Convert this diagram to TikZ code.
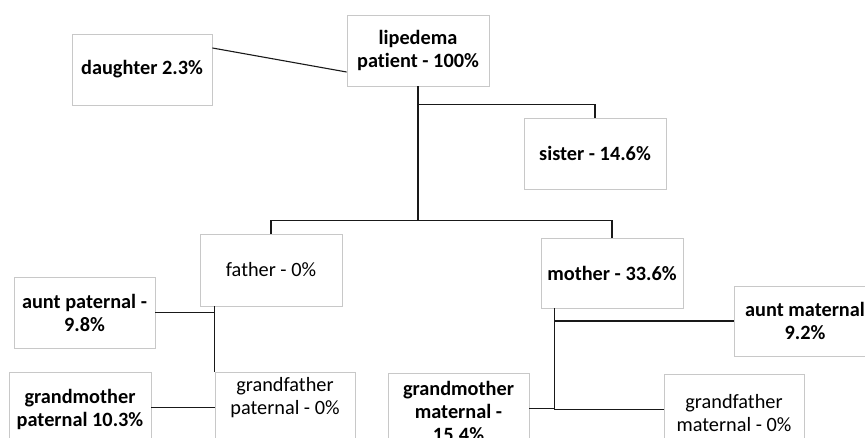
\documentclass[tikz,border=0pt]{standalone}
\usepackage{fontspec}
\setmainfont{Carlito}[Ligatures={NoCommon}]
\usetikzlibrary{calc}
\definecolor{boxgray}{RGB}{200,200,200}
\tikzset{
  box/.style={draw=boxgray, line width=0.9pt, fill=white, minimum width=141pt, minimum height=71pt, inner sep=0pt},
  txt/.style={align=center, inner sep=0pt, font=\fontsize{20.3}{23}\selectfont},
  btxt/.style={txt, font=\fontsize{20.3}{23}\selectfont\bfseries},
  conn/.style={draw=black!90, line width=1.1pt}
}
\begin{document}
\begin{tikzpicture}[x=1pt,y=-1pt]
\fill[white] (0,0) rectangle (865,438);
\useasboundingbox (0,0) rectangle (865,438);
\clip (0,0) rectangle (865,438);
% boxes
\node[box, minimum width=140pt] (daughter) at (142,69.5) {};
\node[btxt] (tdaughter) at (daughter.center) {daughter 2.3\%};
\node[box, minimum width=142pt] (patient) at (418,50.5) {};
\node[btxt] (tpatient) at (patient.center) {lipedema\\patient - 100\%};
\node[box, minimum width=142pt] (sister) at (595,153.5) {};
\node[btxt] (tsister) at (sister.center) {sister - 14.6\%};
\node[box, minimum width=142pt, minimum height=72pt] (father) at (271,270) {};
\node[txt] (tfather) at (father.center) {father - 0\%};
\node[box, minimum width=142pt, minimum height=70pt] (mother) at (612,273) {};
\node[btxt] (tmother) at (mother.center) {mother - 33.6\%};
\node[box] (ap) at (84.5,312.5) {};
\node[btxt] (tap) at (ap.center) {aunt paternal -\\9.8\%};
\node[box, minimum height=70pt] (am) at (805,321) {};
\node[btxt] (tam) at (805,321) {aunt maternal\\9.2\%};
\node[box, minimum width=142pt] (gmp) at (80,407.5) {};
\node[btxt] (tgmp) at (80,409.5) {grandmother\\paternal 10.3\%};
\node[box, minimum width=140pt] (gfp) at (285,408) {};
\node[txt] (tgfp) at (285,398) {grandfather\\paternal - 0\%};
\node[box, minimum width=141pt] (gmm) at (458.5,408.5) {};
\node[btxt] (tgmm) at (458.5,411) {grandmother\\maternal -\\15.4\%};
\node[box, minimum width=140pt] (gfm) at (734,409.5) {};
\node[txt] (tgfm) at (734,413) {grandfather\\maternal - 0\%};
% connectors
\draw[conn] ($(daughter.east)+(0,-21.5)$) -- ($(patient.west)+(0,21.5)$);
\coordinate (hub) at ($(father.north)+(0,-13)$);
\draw[conn] (patient.south) -- ++(0,18) -| (sister.north);
\draw[conn] (patient.south) -- (patient.south |- hub);
\draw[conn] (father.north) |- ($(mother.north)+(0,-17)$) -- (mother.north);
\draw[conn] (gfp.north west) -- (gfp.north west |- father.south);
\draw[conn] (ap.east) -- (ap.east -| gfp.west);
\draw[conn] (gmp.east) -- (gmp.east -| gfp.west);
\coordinate (mt) at ($(mother.south west)+(14,0)$);
\draw[conn] (mt) |- (gfm.west);
\draw[conn] (mt |- am.west) -- (am.west);
\draw[conn] (gmm.east) -- (gmm.east -| mt);
\end{tikzpicture}
\end{document}
